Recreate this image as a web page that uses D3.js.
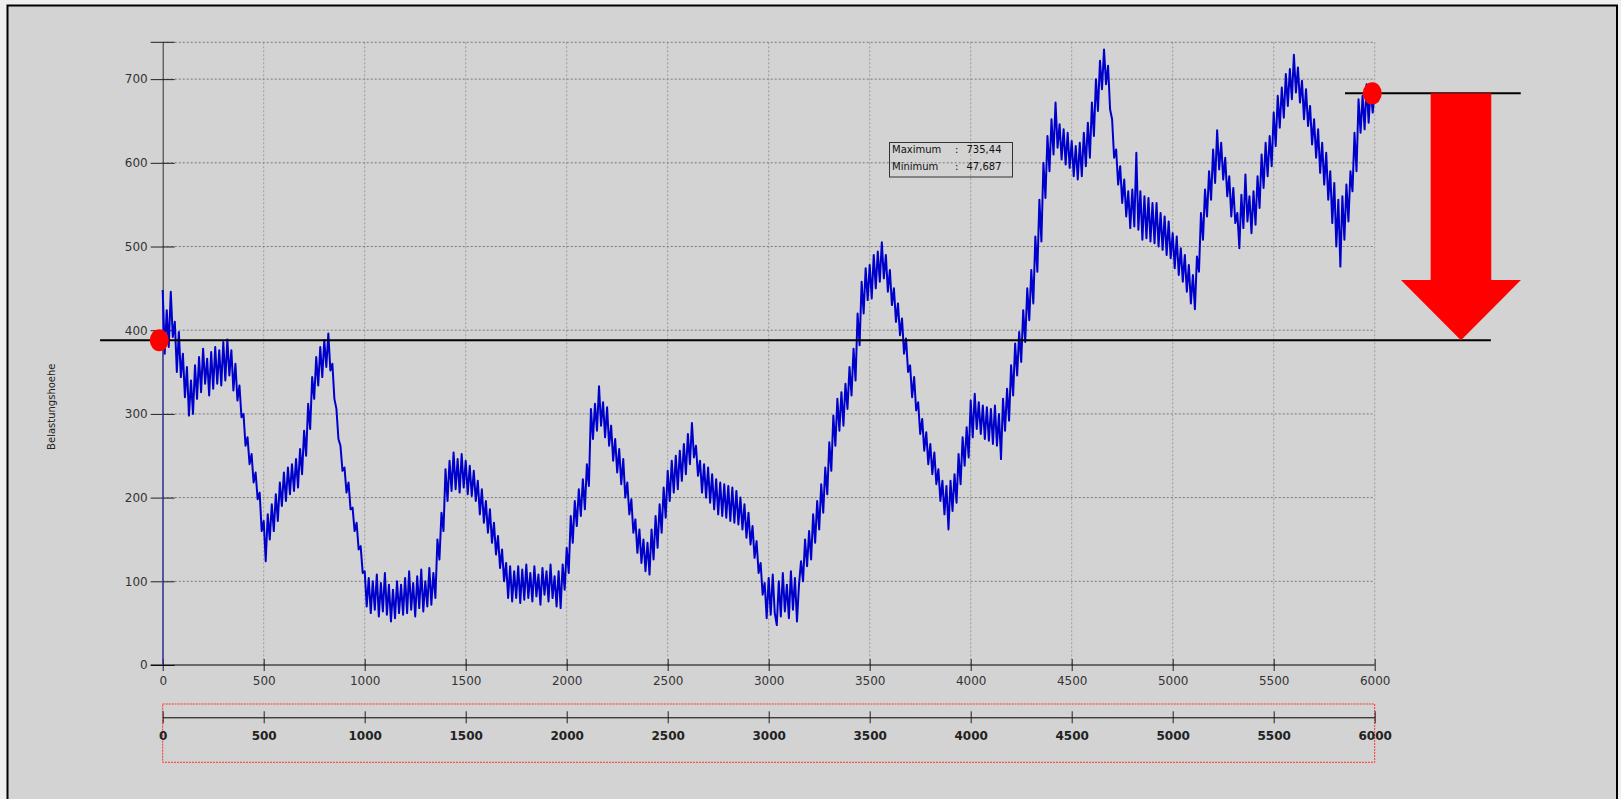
<!DOCTYPE html>
<html>
<head>
<meta charset="utf-8">
<script src="https://cdn.jsdelivr.net/npm/d3@7"></script>
<style>
  html, body { margin: 0; padding: 0; background: #efefef; }
  svg { display: block; font-family: "DejaVu Sans", Verdana, sans-serif; }
</style>
</head>
<body>
<svg id="chart" width="1621" height="799"></svg>
<script>
// Load height series, one sample every 10 units of travel (0 .. 6000)
const sampleStep = 10;
const belastung = [
  448, 372, 424, 380, 446, 392, 410, 350, 398, 344, 372, 320, 356, 298, 340, 300, 358, 318, 368, 326,
  378, 336, 366, 322, 374, 330, 380, 336, 376, 334, 386, 340, 389, 346, 376, 328, 360, 316, 334, 296,
  300, 262, 272, 240, 252, 218, 230, 198, 206, 160, 172, 124, 180, 150, 192, 160, 204, 172, 218, 190,
  230, 196, 236, 204, 240, 208, 246, 212, 258, 228, 280, 250, 312, 282, 344, 318, 368, 334, 380, 344,
  388, 356, 396, 352, 360, 318, 306, 270, 262, 232, 236, 206, 218, 186, 188, 160, 170, 138, 142, 110,
  112, 70, 104, 62, 100, 66, 108, 58, 98, 64, 110, 60, 96, 52, 90, 56, 100, 62, 96, 60,
  104, 62, 112, 66, 98, 58, 106, 68, 114, 64, 100, 70, 116, 72, 110, 80, 150, 126, 182, 160,
  234, 196, 244, 208, 254, 210, 246, 206, 252, 212, 244, 204, 238, 202, 232, 196, 220, 180, 210, 170,
  196, 158, 186, 146, 170, 132, 154, 116, 138, 100, 122, 80, 118, 76, 112, 80, 118, 74, 114, 78,
  120, 80, 110, 76, 118, 82, 108, 72, 116, 84, 112, 76, 120, 80, 106, 70, 112, 68, 120, 90,
  140, 110, 178, 146, 196, 166, 210, 178, 222, 186, 240, 214, 306, 270, 312, 280, 333, 286, 314, 272,
  308, 262, 286, 244, 270, 230, 258, 216, 246, 200, 218, 180, 198, 158, 174, 134, 162, 122, 150, 112,
  146, 108, 162, 126, 178, 140, 192, 158, 212, 176, 232, 196, 244, 206, 250, 210, 256, 220, 264, 228,
  276, 240, 289, 248, 262, 226, 244, 206, 240, 200, 236, 194, 228, 186, 222, 180, 218, 178, 216, 176,
  214, 172, 212, 170, 208, 168, 200, 162, 192, 152, 182, 144, 166, 128, 148, 110, 122, 84, 98, 56,
  104, 60, 108, 62, 47.687, 100, 58, 110, 64, 96, 56, 112, 66, 104, 52, 96, 124, 100, 150, 118,
  160, 126, 180, 146, 196, 162, 216, 182, 236, 204, 266, 232, 298, 262, 318, 280, 326, 286, 336, 306,
  356, 322, 378, 340, 420, 382, 458, 420, 474, 436, 478, 438, 490, 450, 494, 458, 505, 462, 490, 446,
  472, 430, 450, 410, 432, 394, 414, 372, 390, 350, 358, 320, 344, 304, 314, 276, 294, 256, 278, 240,
  264, 228, 254, 216, 234, 196, 220, 180, 214, 162, 220, 184, 228, 194, 252, 216, 272, 238, 284, 248,
  316, 272, 324, 282, 314, 276, 310, 270, 308, 268, 306, 264, 310, 262, 300, 246, 318, 280, 330, 292,
  358, 322, 384, 346, 398, 362, 424, 386, 450, 412, 472, 432, 512, 470, 556, 506, 600, 558, 632, 590,
  652, 610, 672, 618, 646, 604, 640, 598, 636, 594, 626, 584, 620, 580, 624, 584, 636, 596, 648, 606,
  672, 632, 700, 662, 722, 688, 735.44, 694, 716, 664, 652, 606, 616, 574, 596, 552, 580, 536, 566, 522,
  568, 524, 612, 520, 566, 508, 560, 510, 558, 506, 552, 504, 552, 500, 540, 496, 536, 490, 530, 486,
  516, 474, 512, 466, 498, 458, 490, 446, 478, 432, 466, 425, 488, 470, 540, 508, 568, 536, 590, 556,
  616, 576, 639, 592, 624, 580, 606, 560, 584, 536, 570, 528, 540, 498, 562, 522, 586, 530, 560, 516,
  566, 526, 584, 546, 610, 570, 624, 584, 632, 596, 660, 620, 680, 642, 690, 654, 706, 668, 712, 676,
  729, 684, 714, 672, 698, 652, 688, 644, 668, 622, 652, 606, 640, 588, 624, 574, 612, 556, 590, 528,
  576, 500, 556, 476, 560, 508, 574, 530, 590, 566, 636, 590, 676, 636, 680, 640, 694, 648, 690, 660,
  686
];

const xTicks = [0, 500, 1000, 1500, 2000, 2500, 3000, 3500, 4000, 4500, 5000, 5500, 6000];
const yTicks = [0, 100, 200, 300, 400, 500, 600, 700];
const yMax = 744;

// Start / end levels and the drop between them
const startLevel = 388;
const endLevel = 683;
const levelLines = [
  { value: startLevel, from: -310, to: 6575 },
  { value: endLevel, from: 5853, to: 6723 }
];
const levelMarkers = [
  { x: -17, value: startLevel },
  { x: 5988, value: endLevel }
];
const dropArrow = { x: 6427, shaftHalf: 150, headHalf: 297, headLength: 72 };

const svg = d3.select("#chart");

// frame
svg.append("rect")
  .attr("x", 7.5).attr("y", 5.5)
  .attr("width", 1609.5).attr("height", 820)
  .attr("fill", "#d3d3d3")
  .attr("stroke", "#000").attr("stroke-width", 2);

const x = d3.scaleLinear().domain([0, 6000]).range([162.7, 1374.7]);
const y = d3.scaleLinear().domain([0, yMax]).range([665, 42.3]);
const intFmt = d3.format("d");

// grid
const grid = svg.append("g").attr("fill", "none");
grid.selectAll("line.v").data(xTicks.slice(1)).join("line")
  .attr("x1", d => x(d)).attr("x2", d => x(d))
  .attr("y1", y(yMax)).attr("y2", y(0))
  .attr("stroke", "#9a9a9a").attr("stroke-dasharray", "2,2");
grid.selectAll("line.h").data(yTicks.slice(1).concat([yMax])).join("line")
  .attr("x1", x(0)).attr("x2", x(6000))
  .attr("y1", d => y(d)).attr("y2", d => y(d))
  .attr("stroke", "#7a7a7a").attr("stroke-dasharray", "2,2");

// y axis
const yAxis = d3.axisLeft(y).tickValues(yTicks).tickFormat(intFmt)
  .tickSize(12).tickPadding(3).tickSizeOuter(0);
const gy = svg.append("g").attr("transform", `translate(${x(0)},0)`).call(yAxis);
gy.select(".domain").attr("stroke", "#333");
gy.selectAll(".tick line").attr("stroke", "#222").attr("x2", 12).attr("x1", -12);
gy.selectAll(".tick text").attr("font-size", 12).attr("fill", "#333")
  .attr("font-family", "DejaVu Sans, sans-serif");
gy.append("line").attr("x1", -12).attr("x2", 12).attr("y1", y(yMax)).attr("y2", y(yMax))
  .attr("stroke", "#222");

// x axis
const xAxis = d3.axisBottom(x).tickValues(xTicks).tickFormat(intFmt)
  .tickSize(6).tickPadding(5).tickSizeOuter(0);
const gx = svg.append("g").attr("transform", `translate(0,${y(0)})`).call(xAxis);
gx.select(".domain").remove();
gx.append("line").attr("x1", x(0) - 12).attr("x2", x(6000)).attr("stroke", "#000");
gx.selectAll(".tick line").attr("stroke", "#222").attr("y1", -6).attr("y2", 6);
gx.selectAll(".tick text").attr("font-size", 12).attr("fill", "#333")
  .attr("font-family", "DejaVu Sans, sans-serif");

// axis title
svg.append("text")
  .attr("transform", "translate(55,406.7) rotate(-90)")
  .attr("text-anchor", "middle")
  .attr("font-size", 10).attr("fill", "#222")
  .text("Belastungshoehe");

// series
const pts = belastung.map((v, i) => [i * sampleStep, v]);
svg.append("line")
  .attr("x1", x(0)).attr("x2", x(0))
  .attr("y1", y(0)).attr("y2", y(belastung[0]))
  .attr("stroke", "#3c3cd2").attr("stroke-width", 1);
svg.append("path")
  .datum(pts)
  .attr("fill", "none")
  .attr("stroke", "#0000cc")
  .attr("stroke-width", 2)
  .attr("stroke-linejoin", "round")
  .attr("d", d3.line().x(d => x(d[0])).y(d => y(d[1])));

// level lines
svg.selectAll("line.level").data(levelLines).join("line")
  .attr("x1", d => x(d.from)).attr("x2", d => x(d.to))
  .attr("y1", d => y(d.value)).attr("y2", d => y(d.value))
  .attr("stroke", "#000").attr("stroke-width", 2);

// drop arrow from end level down to start level
const ax = dropArrow.x;
const arrowPts = [
  [ax - dropArrow.shaftHalf, endLevel],
  [ax + dropArrow.shaftHalf, endLevel],
  [ax + dropArrow.shaftHalf, startLevel + dropArrow.headLength],
  [ax + dropArrow.headHalf, startLevel + dropArrow.headLength],
  [ax, startLevel],
  [ax - dropArrow.headHalf, startLevel + dropArrow.headLength],
  [ax - dropArrow.shaftHalf, startLevel + dropArrow.headLength]
];
svg.append("path")
  .attr("d", d3.line().x(d => x(d[0])).y(d => y(d[1]))(arrowPts) + "Z")
  .attr("fill", "#ff0000");

// markers
svg.selectAll("ellipse.marker").data(levelMarkers).join("ellipse")
  .attr("cx", d => x(d.x)).attr("cy", d => y(d.value))
  .attr("rx", 9.5).attr("ry", 11)
  .attr("fill", "#ff0000");

// max / min box
const de = d3.formatLocale({ decimal: ",", thousands: ".", grouping: [3], currency: ["", "€"] });
const fmt = de.format(".5~r");
const stats = [
  { label: "Maximum", value: d3.max(belastung) },
  { label: "Minimum", value: d3.min(belastung) }
];
const box = svg.append("g");
box.append("rect").attr("x", 889.5).attr("y", 142.5).attr("width", 123).attr("height", 34.5)
  .attr("fill", "none").attr("stroke", "#333").attr("stroke-width", 1);
stats.forEach((s, i) => {
  const by = 153 + i * 16.5;
  box.append("text").attr("x", 892).attr("y", by).attr("font-size", 10).attr("fill", "#111").text(s.label);
  box.append("text").attr("x", 955).attr("y", by).attr("font-size", 10).attr("fill", "#111").text(":");
  box.append("text").attr("x", 966.5).attr("y", by).attr("font-size", 10).attr("fill", "#111").text(fmt(s.value));
});

// overview axis with selection frame
const ov = svg.append("g").attr("transform", "translate(0,717.3)");
ov.append("rect").attr("x", x(0)).attr("y", -13.3).attr("width", x(6000) - x(0)).attr("height", 58.3)
  .attr("fill", "none").attr("stroke", "#ff3030").attr("stroke-width", 1).attr("stroke-dasharray", "2,1");
const ovAxis = d3.axisBottom(x).tickValues(xTicks).tickFormat(intFmt)
  .tickSize(6).tickPadding(8).tickSizeOuter(0);
ov.call(ovAxis);
ov.select(".domain").attr("stroke", "#000");
ov.selectAll(".tick line").attr("stroke", "#222").attr("y1", -6).attr("y2", 6);
ov.selectAll(".tick text").attr("font-size", 12).attr("font-weight", "bold").attr("fill", "#222")
  .attr("font-family", "DejaVu Sans, sans-serif");
</script>
</body>
</html>
